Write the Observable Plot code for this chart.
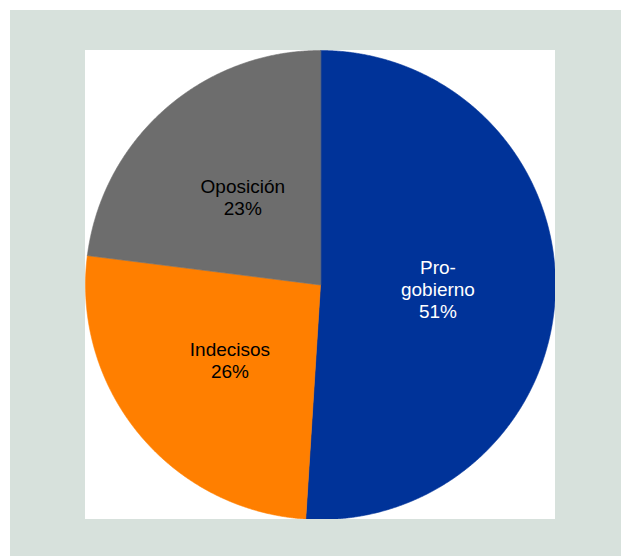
<!DOCTYPE html>
<html>
<head>
<meta charset="utf-8">
<script src="https://cdn.jsdelivr.net/npm/d3@7"></script>
<script src="https://cdn.jsdelivr.net/npm/@observablehq/plot@0.6"></script>
<style>
  html, body { margin: 0; padding: 0; background: #ffffff; }
  #frame { position: absolute; left: 10px; top: 10px; width: 611px; height: 546px; background: #d7e1dc; }
  #chart { position: absolute; left: 75px; top: 40px; width: 470px; height: 469px; background: #ffffff; }
  #chart svg { display: block; }
</style>
</head>
<body>
<div id="frame"><div id="chart"></div></div>
<script>
const categories = ["Pro-gobierno", "Indecisos", "Oposición"];
const values = [51, 26, 23];
const labelLines = ["Pro-\ngobierno", "Indecisos", "Oposición"];
const colors = ["#003399", "#ff7f00", "#6d6d6d"];
const textColors = ["#ffffff", "#000000", "#000000"];

const total = d3.sum(values);
// slices clockwise from 12 o'clock
const arcs = d3.pie().sort(null).startAngle(0).endAngle(2 * Math.PI)(values);

const polys = [];
arcs.forEach((a, i) => {
  polys.push({key: categories[i], x: 0, y: 0});
  const n = Math.max(2, Math.ceil((a.endAngle - a.startAngle) / (Math.PI / 720)));
  for (let k = 0; k <= n; k++) {
    const t = a.startAngle + (a.endAngle - a.startAngle) * k / n;
    polys.push({key: categories[i], x: Math.sin(t), y: Math.cos(t)});
  }
});

const labels = arcs.map((a, i) => {
  const m = (a.startAngle + a.endAngle) / 2;
  return {
    key: categories[i],
    x: 0.5 * Math.sin(m),
    y: 0.5 * Math.cos(m),
    text: labelLines[i] + "\n" + Math.round(values[i] / total * 100) + "%",
    color: textColors[i]
  };
});

const plot = Plot.plot({
  width: 470,
  height: 469,
  margin: 0,
  x: {domain: [-1, 1], axis: null},
  y: {domain: [-1, 1], axis: null},
  color: {domain: categories, range: colors},
  style: {background: "transparent", fontFamily: "'Liberation Sans', Arial, sans-serif"},
  marks: [
    Plot.line(polys, {x: "x", y: "y", z: "key", fill: "key", stroke: "key", strokeWidth: 0.6, curve: "linear-closed"}),
    Plot.text(labels, {x: "x", y: "y", text: "text", fill: d => d.color, fontSize: 19, lineHeight: 1.16})
  ]
});
document.getElementById("chart").appendChild(plot);
</script>
</body>
</html>
